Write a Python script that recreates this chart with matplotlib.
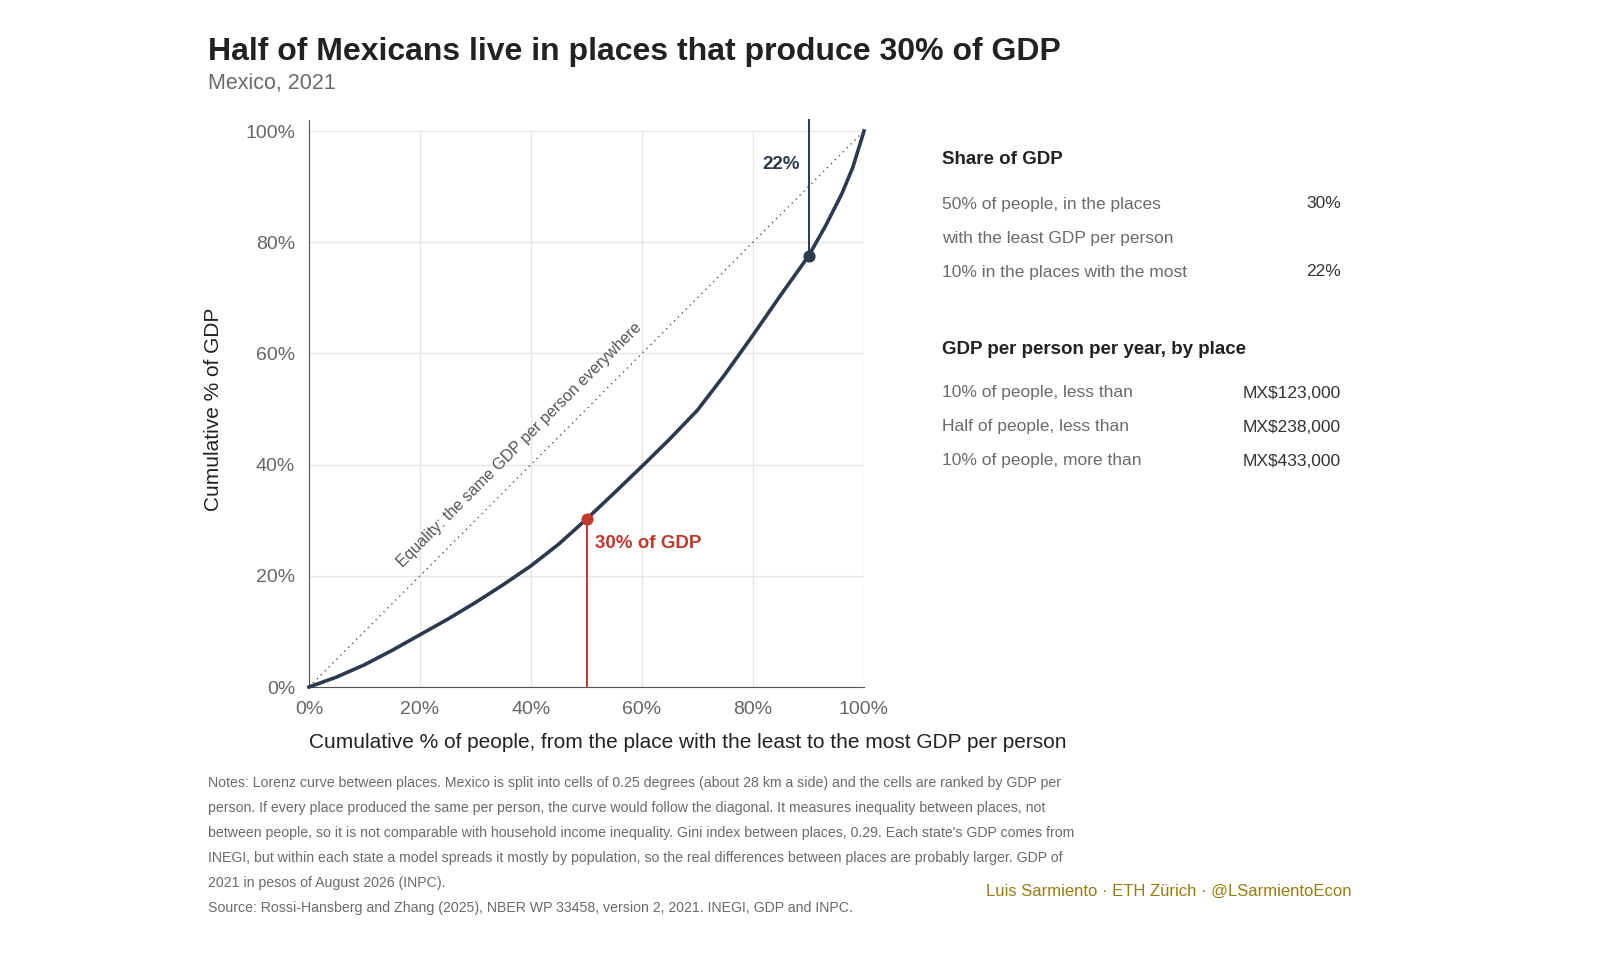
import numpy as np
import matplotlib.pyplot as plt

plt.rcParams['font.family'] = ['Liberation Sans', 'DejaVu Sans']

# Lorenz curve (share of people, share of GDP)
people = [0, 0.05, 0.10, 0.15, 0.20, 0.25, 0.30, 0.35, 0.40, 0.45, 0.50, 0.55, 0.60,
          0.65, 0.70, 0.75, 0.80, 0.85, 0.90, 0.93, 0.96, 0.98, 1.0]
gdp = [0, 0.018, 0.040, 0.066, 0.094, 0.122, 0.152, 0.184, 0.218, 0.257, 0.302, 0.349, 0.397,
       0.446, 0.498, 0.563, 0.633, 0.705, 0.775, 0.828, 0.887, 0.935, 1.0]

share_rows = [("50% of people, in the places", "30%"),
              ("with the least GDP per person", ""),
              ("10% in the places with the most", "22%")]
pc_rows = [("10% of people, less than", "MX$123,000"),
           ("Half of people, less than", "MX$238,000"),
           ("10% of people, more than", "MX$433,000")]

dark = "#2b3a4e"
red = "#c0392b"
grey = "#6b6b6b"

fig = plt.figure(figsize=(16, 9.6), dpi=100)
ax = fig.add_axes([309/1600, 1-687/960, 555/1600, 556/960])

ax.plot(people, gdp, color=dark, lw=2.6, zorder=3, solid_joinstyle='round', clip_on=False)
ax.plot([0, 1], [0, 1], ls=(0, (1, 3)), color="#555555", lw=1)
ax.text(0.17, 0.215, "Equality: the same GDP per person everywhere", rotation=45,
        rotation_mode='anchor', fontsize=11.5, color="#555555")

ax.plot([0.5, 0.5], [0, 0.302], color=red, lw=1.4)
ax.scatter([0.5], [0.302], color=red, s=60, zorder=4)
ax.text(0.515, 0.258, "30% of GDP", color=red, fontsize=13.5, fontweight='bold', va='center')

ax.plot([0.9, 0.9], [0.775, 1.02], color=dark, lw=1.4, clip_on=False)
ax.scatter([0.9], [0.775], color=dark, s=60, zorder=4)
ax.text(0.885, 0.94, "22%", color=dark, fontsize=13.5, fontweight='bold', ha='right', va='center')

ax.set_xlim(0, 1)
ax.set_ylim(0, 1)
ticks = np.arange(0, 1.01, 0.2)
ax.set_xticks(ticks)
ax.set_yticks(ticks)
ax.set_xticklabels([f"{int(t*100)}%" for t in ticks])
ax.set_yticklabels([f"{int(t*100)}%" for t in ticks])
ax.tick_params(labelsize=14, colors="#666666", length=0, pad=10)
ax.grid(color="#e6e6e6", lw=1)
ax.set_axisbelow(True)
ax.spines["top"].set_visible(False)
ax.spines["right"].set_visible(False)
ax.spines["left"].set_bounds(0, 1.02)
for s in ["left", "bottom"]:
    ax.spines[s].set_color("#555555")
ax.set_ylabel("Cumulative % of GDP", fontsize=15, color="#222222", labelpad=16)
fig.text(309/1600, 1-743/960,
         "Cumulative % of people, from the place with the least to the most GDP per person",
         fontsize=15, color="#222222", va='center')

fig.text(208/1600, 1-52/960, "Half of Mexicans live in places that produce 30% of GDP",
         fontsize=23, fontweight='bold', color="#222222", va='center')
fig.text(208/1600, 1-84/960, "Mexico, 2021", fontsize=15.5, color=grey, va='center')

fig.text(942/1600, 1-160/960, "Share of GDP", fontsize=13.5, fontweight='bold', color="#222222", va='center')
for i, (lab, val) in enumerate(share_rows):
    y = 1 - (204 + i*34)/960
    fig.text(942/1600, y, lab, fontsize=12.5, color=grey, va='center')
    fig.text(1341/1600, y, val, fontsize=12.5, color="#333333", va='center', ha='right')

fig.text(942/1600, 1-349/960, "GDP per person per year, by place", fontsize=13.5, fontweight='bold',
         color="#222222", va='center')
for i, (lab, val) in enumerate(pc_rows):
    y = 1 - (393 + i*34)/960
    fig.text(942/1600, y, lab, fontsize=12.5, color=grey, va='center')
    fig.text(1341/1600, y, val, fontsize=12.5, color="#333333", va='center', ha='right')

notes = ("Notes: Lorenz curve between places. Mexico is split into cells of 0.25 degrees (about 28 km a side) and the cells are ranked by GDP per\n"
         "person. If every place produced the same per person, the curve would follow the diagonal. It measures inequality between places, not\n"
         "between people, so it is not comparable with household income inequality. Gini index between places, 0.29. Each state's GDP comes from\n"
         "INEGI, but within each state a model spreads it mostly by population, so the real differences between places are probably larger. GDP of\n"
         "2021 in pesos of August 2026 (INPC).\n"
         "Source: Rossi-Hansberg and Zhang (2025), NBER WP 33458, version 2, 2021. INEGI, GDP and INPC.")
fig.text(208/1600, 1-776/960, notes, fontsize=10.2, color=grey, va='top', linespacing=2.0)
fig.text(1352/1600, 1-891/960, "Luis Sarmiento · ETH Zürich · @LSarmientoEcon", fontsize=12,
         color="#9a7b12", ha='right', va='center')

fig.savefig("out.png", dpi=100, facecolor="white")
